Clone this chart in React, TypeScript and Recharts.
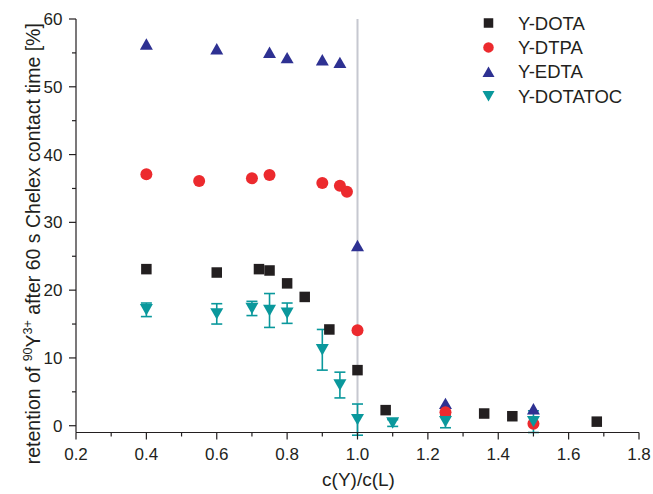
import React from 'react';
import { ScatterChart, Scatter, XAxis, YAxis, ErrorBar, ReferenceLine } from 'recharts';

// c(Y)/c(L) ratios and retention values [%] per complex
const dotaX = [0.4, 0.6, 0.72, 0.75, 0.8, 0.85, 0.92, 1.0, 1.08, 1.36, 1.44, 1.68];
const dotaY = [23.1, 22.6, 23.1, 22.9, 21.0, 19.0, 14.2, 8.2, 2.3, 1.8, 1.4, 0.6];

const dtpaX = [0.4, 0.55, 0.7, 0.75, 0.9, 0.95, 0.97, 1.0, 1.25, 1.5];
const dtpaY = [37.1, 36.1, 36.5, 37.0, 35.8, 35.4, 34.5, 14.1, 2.0, 0.3];

const edtaX = [0.4, 0.6, 0.75, 0.8, 0.9, 0.95, 1.0, 1.25, 1.5];
const edtaY = [56.3, 55.6, 55.1, 54.3, 54.0, 53.6, 26.6, 3.3, 2.5];

const dotatocX = [0.4, 0.6, 0.7, 0.75, 0.8, 0.9, 0.95, 1.0, 1.1, 1.25, 1.5];
const dotatocY = [17.1, 16.5, 17.3, 17.0, 16.6, 11.2, 6.0, 0.9, 0.4, 0.6, 0.6];
const dotatocErr = [1.0, 1.5, 1.05, 2.5, 1.5, 3.0, 1.9, 2.3, 0.5, 0.9, 1.6];

const xTicks = [0.2, 0.3, 0.4, 0.5, 0.6, 0.7, 0.8, 0.9, 1.0, 1.1, 1.2, 1.3, 1.4, 1.5, 1.6, 1.7, 1.8];
const yTicks = [0, 5, 10, 15, 20, 25, 30, 35, 40, 45, 50, 55, 60];
const xLabeled = [0.2, 0.4, 0.6, 0.8, 1.0, 1.2, 1.4, 1.6, 1.8];
const yLabeled = [0, 10, 20, 30, 40, 50, 60];

const seriesNames = ['Y-DOTA', 'Y-DTPA', 'Y-EDTA', 'Y-DOTATOC'];

const dota = dotaX.map((x, i) => ({ x, y: dotaY[i] }));
const dtpa = dtpaX.map((x, i) => ({ x, y: dtpaY[i] }));
const edta = edtaX.map((x, i) => ({ x, y: edtaY[i] }));
const dotatoc = dotatocX.map((x, i) => ({ x, y: dotatocY[i], err: dotatocErr[i] }));

const INK = '#231f20';
const RED = '#ec2a2e';
const BLUE = '#2e3192';
const TEAL = '#0a989c';
const FONT = '"Liberation Sans", Arial, Helvetica, sans-serif';

type MarkerKind = 'square' | 'circle' | 'up' | 'down';

const Marker = ({ kind, cx, cy, size, color }: { kind: MarkerKind; cx: number; cy: number; size: number; color: string }) => {
  const h = size / 2;
  if (kind === 'square') return <rect x={cx - h} y={cy - h} width={size} height={size} fill={color} />;
  if (kind === 'circle') return <circle cx={cx} cy={cy} r={h} fill={color} />;
  const th = size * 0.88;
  if (kind === 'up')
    return <polygon points={`${cx},${cy - th / 2} ${cx + h},${cy + th / 2} ${cx - h},${cy + th / 2}`} fill={color} />;
  return <polygon points={`${cx - h},${cy - th / 2} ${cx + h},${cy - th / 2} ${cx},${cy + th / 2}`} fill={color} />;
};

const shapeOf = (kind: MarkerKind, color: string, size: number) => (p: any) =>
  p.cx == null || p.cy == null ? <g /> : <Marker kind={kind} cx={p.cx} cy={p.cy} size={size} color={color} />;

const XTick = (props: any) => {
  const { x, y, payload } = props;
  const v = payload.value as number;
  const major = xLabeled.some((t) => Math.abs(t - v) < 1e-6);
  return (
    <g>
      <line x1={x} x2={x} y1={y} y2={y + (major ? 7 : 4)} stroke={INK} strokeWidth={1.2} />
      {major && (
        <text x={x} y={y + 27.5} textAnchor="middle" fontSize={17} fontFamily={FONT} fill={INK}>
          {v.toFixed(1)}
        </text>
      )}
    </g>
  );
};

const YTick = (props: any) => {
  const { x, y, payload } = props;
  const v = payload.value as number;
  const major = yLabeled.includes(v);
  return (
    <g>
      <line x1={x} x2={x - (major ? 7 : 4)} y1={y} y2={y} stroke={INK} strokeWidth={1.2} />
      {major && (
        <text x={x - 13.5} y={y + 6} textAnchor="end" fontSize={17} fontFamily={FONT} fill={INK}>
          {v}
        </text>
      )}
    </g>
  );
};

const YTitle = (props: any) => {
  const vb = props.viewBox || { x: 0, y: 0, width: 0, height: 0 };
  const tx = vb.x + 40;
  const ty = vb.y + vb.height / 2 + 18;
  return (
    <text
      x={tx}
      y={ty}
      transform={`rotate(-90 ${tx} ${ty})`}
      textAnchor="middle"
      fontSize={19.5}
      fontFamily={FONT}
      fill={INK}
    >
      <tspan>retention of </tspan>
      <tspan fontSize={12.5} dy={-8}>90</tspan>
      <tspan dy={8}>Y</tspan>
      <tspan fontSize={12.5} dy={-8}>3+</tspan>
      <tspan dy={8}> after 60 s Chelex contact time [%]</tspan>
    </text>
  );
};

const XTitle = (props: any) => {
  const vb = props.viewBox || { x: 0, y: 0, width: 0, height: 0 };
  return (
    <text x={vb.x + vb.width / 2 + 1} y={vb.y + 53} textAnchor="middle" fontSize={19} fontFamily={FONT} fill={INK}>
      c(Y)/c(L)
    </text>
  );
};

const legendKinds: MarkerKind[] = ['square', 'circle', 'up', 'down'];
const legendColors = [INK, RED, BLUE, TEAL];
const legendSizes = [9.5, 10.5, 12, 12];

const LegendBox = () => (
  <svg width={175} height={100} style={{ display: 'block' }}>
    {seriesNames.map((name, i) => (
      <g key={name}>
        <Marker kind={legendKinds[i]} cx={10.5} cy={13 + i * 24.4} size={legendSizes[i]} color={legendColors[i]} />
        <text x={40} y={19.5 + i * 24.4} fontSize={18.5} fontFamily={FONT} fill={INK}>
          {name}
        </text>
      </g>
    ))}
  </svg>
);

export default function App() {
  return (
    <div style={{ position: 'absolute', left: 0, top: 0, width: 653, height: 494, background: '#fff' }}>
      <ScatterChart width={653} height={494} margin={{ top: 19, right: 14, bottom: 0, left: 0 }}>
        <XAxis
          type="number"
          dataKey="x"
          domain={[0.2, 1.8]}
          ticks={xTicks}
          interval={0}
          allowDataOverflow
          height={61.5}
          tickSize={0}
          tickMargin={0}
          tickLine={false}
          tick={<XTick />}
          axisLine={{ stroke: INK, strokeWidth: 1.2 }}
          label={{ content: <XTitle /> }}
        />
        <YAxis
          type="number"
          dataKey="y"
          domain={[-1, 60]}
          ticks={yTicks}
          interval={0}
          allowDataOverflow
          width={76}
          tickSize={0}
          tickMargin={0}
          tickLine={false}
          tick={<YTick />}
          axisLine={{ stroke: INK, strokeWidth: 1.2 }}
          label={{ content: <YTitle /> }}
        />
        <ReferenceLine x={1.0} stroke="#c6c8d0" strokeWidth={2} />
        <Scatter name={seriesNames[0]} data={dota} fill={INK} shape={shapeOf('square', INK, 10.5)} isAnimationActive={false} />
        <Scatter name={seriesNames[2]} data={edta} fill={BLUE} shape={shapeOf('up', BLUE, 13)} isAnimationActive={false} />
        <Scatter name={seriesNames[1]} data={dtpa} fill={RED} shape={shapeOf('circle', RED, 12)} isAnimationActive={false} />
        <Scatter name={seriesNames[3]} data={dotatoc} fill={TEAL} shape={shapeOf('down', TEAL, 13)} isAnimationActive={false}>
          <ErrorBar dataKey="err" direction="y" width={5.5} stroke={TEAL} strokeWidth={1.6} />
        </Scatter>
      </ScatterChart>
      <div style={{ position: 'absolute', left: 478, top: 10 }}>
        <LegendBox />
      </div>
    </div>
  );
}
